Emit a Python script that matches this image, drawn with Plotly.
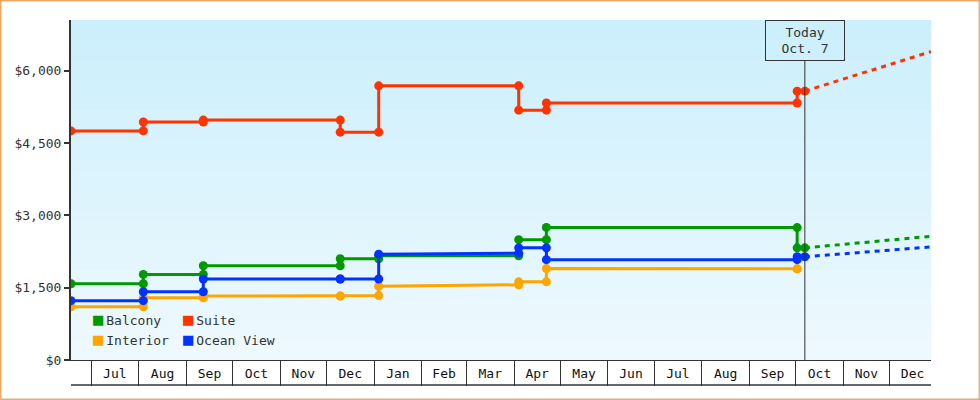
import plotly.graph_objects as go

# --- data ---
DATES = [
    "2015-06-18",
    "2015-08-04", "2015-08-04",
    "2015-09-12", "2015-09-12",
    "2015-12-10", "2015-12-10",
    "2016-01-04", "2016-01-04",
    "2016-04-04", "2016-04-04",
    "2016-04-22", "2016-04-22",
    "2016-10-02", "2016-10-02",
    "2016-10-07",
]
TODAY = "2016-10-07"
RANGE_END = "2016-12-28"
PROJ_DATES = [TODAY, RANGE_END]

suite = [4750, 4750, 4935, 4935, 4975, 4975, 4725, 4725, 5685, 5685, 5180, 5180, 5330, 5330, 5575, 5575]
balcony = [1580, 1580, 1775, 1775, 1955, 1955, 2100, 2100, 2160, 2160, 2495, 2495, 2750, 2745, 2325, 2325]
ocean_view = [1230, 1230, 1415, 1415, 1680, 1680, 1680, 1680, 2195, 2215, 2325, 2325, 2080, 2080, 2140, 2140]
interior = [1105, 1105, 1290, 1290, 1325, 1325, 1325, 1335, 1530, 1560, 1620, 1620, 1895, 1890, 1890]

suite_proj = [5575, 6395]
balcony_proj = [2325, 2565]
ocean_view_proj = [2140, 2345]

Y_TICKS = [0, 1500, 3000, 4500, 6000]
Y_TICKTEXT = ['$0', '$1,500', '$3,000', '$4,500', '$6,000']

COLORS = {
    'Balcony': '#009900',
    'Suite': '#FF3300',
    'Interior': '#FFA500',
    'Ocean View': '#0033FF',
    'text': '#333333',
}
FONT = "DejaVu Sans Mono"

W, H = 980, 400
M = dict(l=71, r=49, t=20, b=40)
PW = W - M['l'] - M['r']
PH = H - M['t'] - M['b']


def px_x(px):
    return (px - M['l']) / PW


def px_y(py):
    return (H - M['b'] - py) / PH


fig = go.Figure()

# gradient background, drawn as thin bands
top_c = (203, 239, 252)
bot_c = (238, 249, 254)
n_bands = 34
shapes = []
for i in range(n_bands):
    t = i / (n_bands - 1)
    c = tuple(round(top_c[k] + (bot_c[k] - top_c[k]) * t) for k in range(3))
    shapes.append(dict(
        type='rect', xref='paper', yref='paper', layer='below',
        x0=0, x1=1, y0=1 - (i + 1) / n_bands, y1=1 - i / n_bands,
        fillcolor='rgb(%d,%d,%d)' % c, line=dict(width=0),
    ))

series = [
    ('Balcony', DATES, balcony, balcony_proj),
    ('Interior', DATES[:len(interior)], interior, None),
    ('Ocean View', DATES, ocean_view, ocean_view_proj),
    ('Suite', DATES, suite, suite_proj),
]

for name, xs, ys, proj in series:
    col = COLORS[name]
    fig.add_trace(go.Scatter(
        x=xs, y=ys, mode='lines+markers', name=name, showlegend=False,
        line=dict(color=col, width=3),
        marker=dict(color=col, size=9),
    ))
    if proj:
        fig.add_trace(go.Scatter(
            x=PROJ_DATES, y=proj, mode='lines', showlegend=False,
            line=dict(color=col, width=3, dash='5px,5px'),
        ))

# legend entries (two columns); the coloured square is a glyph in the label
for name, lg in [('Balcony', 'legend'), ('Interior', 'legend'),
                 ('Suite', 'legend2'), ('Ocean View', 'legend2')]:
    label = ('<span style="font-size:17px;fill:%s">■</span>'
             '<span style="font-size:5px"> </span>%s') % (COLORS[name], name)
    fig.add_trace(go.Scatter(
        x=[None], y=[None], mode='markers', name=label, legend=lg,
        marker=dict(color='rgba(0,0,0,0)', size=1),
    ))

# today marker
shapes.append(dict(type='line', xref='x', yref='paper', x0=TODAY, x1=TODAY,
                   y0=0, y1=px_y(60.5), line=dict(color=COLORS['text'], width=1)))
# bottom line of the month boxes
shapes.append(dict(type='line', xref='paper', yref='paper', x0=0, x1=1,
                   y0=px_y(385), y1=px_y(385), line=dict(color=COLORS['text'], width=1.3)))
# outer frame
shapes.append(dict(type='line', xref='paper', yref='paper', x0=px_x(0.7), x1=px_x(0.7),
                   y0=px_y(0), y1=px_y(400), line=dict(color='#EFA862', width=1.5)))
shapes.append(dict(type='line', xref='paper', yref='paper', x0=px_x(0), x1=px_x(980),
                   y0=px_y(0.7), y1=px_y(0.7), line=dict(color='#EFA862', width=1.5)))
shapes.append(dict(type='line', xref='paper', yref='paper', x0=px_x(979.3), x1=px_x(979.3),
                   y0=px_y(0), y1=px_y(400), line=dict(color='#DDB07F', width=1.5)))
shapes.append(dict(type='line', xref='paper', yref='paper', x0=px_x(0), x1=px_x(980),
                   y0=px_y(399.3), y1=px_y(399.3), line=dict(color='#DDB07F', width=1.5)))

fig.add_annotation(
    x=TODAY, xref='x', y=1, yref='paper', yanchor='top',
    text='Today<br>Oct. 7', showarrow=False,
    font=dict(family=FONT, size=13, color=COLORS['text']),
    bordercolor=COLORS['text'], borderwidth=1, borderpad=0,
    width=78, height=39, bgcolor='rgba(0,0,0,0)',
)

legend_common = dict(
    orientation='v', bgcolor='rgba(0,0,0,0)', borderwidth=0,
    font=dict(family=FONT, size=13, color=COLORS['text']),
    itemwidth=30, xanchor='left', yanchor='top', tracegroupgap=0,
)

fig.update_layout(
    width=W, height=H, margin=M,
    paper_bgcolor='white', plot_bgcolor='white',
    font=dict(family=FONT, size=13, color=COLORS['text']),
    shapes=shapes,
    showlegend=True,
    legend=dict(x=px_x(53), y=px_y(305), **legend_common),
    legend2=dict(x=px_x(143), y=px_y(305), **legend_common),
    xaxis=dict(
        type='date', range=['2015-06-18', RANGE_END],
        tick0='2015-07-01', dtick='M1', tickformat='%b', ticklabelmode='period',
        ticks='outside', ticklen=25, tickwidth=1.3, tickcolor=COLORS['text'],
        ticklabelstandoff=-24,
        showline=True, linecolor=COLORS['text'], linewidth=1.3,
        showgrid=False, zeroline=False, fixedrange=True,
        tickfont=dict(family=FONT, size=13, color='#111111'),
    ),
    yaxis=dict(
        range=[0, 7050], tickvals=Y_TICKS, ticktext=Y_TICKTEXT,
        ticks='outside', ticklen=5, tickwidth=2, tickcolor=COLORS['text'],
        showline=True, linecolor=COLORS['text'], linewidth=2,
        showgrid=False, zeroline=False, fixedrange=True,
        tickfont=dict(family=FONT, size=13, color=COLORS['text']),
    ),
)

# the page adds an 8px body margin by default; remove it
fig.write_html("out.html", config={'displayModeBar': False},
               post_script="document.body.style.margin='0';")
